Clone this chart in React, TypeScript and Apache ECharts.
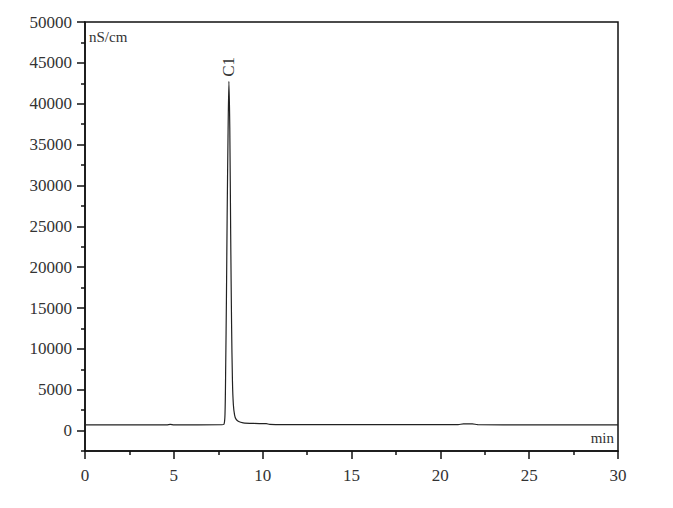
import { useRef, useEffect } from 'react';
import * as echarts from 'echarts';

// retention time (min) and conductivity (nS/cm)
const times = [
  0, 2, 4.6, 4.8, 5.0, 7.7, 7.82, 7.88, 7.92, 7.96, 8.0, 8.05, 8.1, 8.15, 8.2,
  8.25, 8.3, 8.35, 8.42, 8.5, 8.65, 8.9, 9.5, 10.2, 10.4, 12, 21.0, 21.3, 21.8,
  22.1, 25, 30,
];
const signal = [
  700, 690, 700, 760, 700, 710, 760, 2000, 8000, 16000, 26000, 36000, 42750,
  37000, 24000, 13000, 6000, 3200, 1900, 1400, 1100, 950, 870, 840, 760, 720,
  720, 820, 820, 720, 700, 690,
];

const peakName = 'C1';
const peakTime = 8.1;
const peakValue = 42750;

const yMajorTicks = [0, 5000, 10000, 15000, 20000, 25000, 30000, 35000, 40000, 45000, 50000];
const yMinorTicks = [-2500, 2500, 7500, 12500, 17500, 22500, 27500, 32500, 37500, 42500, 47500];

const serif = '"Liberation Serif", "DejaVu Serif", serif';

export default function App() {
  const chartRef = useRef<HTMLDivElement>(null);

  useEffect(() => {
    if (!chartRef.current) return;
    document.body.style.margin = '0';

    const chart = echarts.init(chartRef.current, null, { renderer: 'svg' });

    const points = times.map((t, i) => [t, signal[i]]);

    const option = {
      animation: false,
      backgroundColor: '#fff',
      grid: {
        left: 85,
        right: 55,
        top: 22,
        bottom: 57,
        show: true,
        borderColor: '#111',
        borderWidth: 1.5,
        backgroundColor: 'transparent',
      },
      xAxis: {
        type: 'value',
        min: 0,
        max: 30,
        interval: 5,
        axisLine: { show: true, onZero: false, lineStyle: { color: '#111', width: 1.5 } },
        axisTick: { show: true, length: 8, lineStyle: { color: '#111', width: 1.5 } },
        minorTick: { show: true, splitNumber: 2, length: 4, lineStyle: { color: '#111', width: 1.5 } },
        axisLabel: { color: '#333', fontFamily: serif, fontSize: 17, margin: 16 },
        splitLine: { show: false },
      },
      yAxis: [
        {
          type: 'value',
          min: -2500,
          max: 50000,
          axisLine: { show: true, onZero: false, lineStyle: { color: '#111', width: 1.5 } },
          axisTick: {
            show: true,
            length: 8,
            customValues: yMajorTicks,
            lineStyle: { color: '#111', width: 1.5 },
          },
          axisLabel: {
            color: '#333',
            fontFamily: serif,
            fontSize: 17,
            margin: 13,
            customValues: yMajorTicks,
            formatter: (v: number) => String(v),
          },
          splitLine: { show: false },
        },
        {
          type: 'value',
          min: -2500,
          max: 50000,
          position: 'left',
          axisLine: { show: false },
          axisTick: {
            show: true,
            length: 4,
            customValues: yMinorTicks,
            lineStyle: { color: '#111', width: 1.5 },
          },
          axisLabel: { show: false },
          splitLine: { show: false },
        },
      ],
      graphic: [
        {
          type: 'text',
          left: 89,
          top: 29,
          style: { text: 'nS/cm', font: '15px ' + serif, fill: '#333' },
        },
        {
          type: 'text',
          right: 59,
          top: 430,
          style: { text: 'min', font: '15px ' + serif, fill: '#333' },
        },
      ],
      series: [
        {
          type: 'line',
          data: points,
          showSymbol: false,
          smooth: 0.3,
          lineStyle: { color: '#222', width: 1.2 },
          markPoint: {
            symbol: 'circle',
            symbolSize: 1,
            itemStyle: { color: 'transparent' },
            label: {
              show: true,
              formatter: peakName,
              position: 'top',
              rotate: 90,
              align: 'left',
              verticalAlign: 'middle',
              distance: 4,
              color: '#333',
              fontFamily: serif,
              fontSize: 17,
            },
            data: [{ coord: [peakTime, peakValue] }],
          },
        },
      ],
    };

    chart.setOption(option);

    return () => {
      chart.dispose();
    };
  }, []);

  return <div ref={chartRef} style={{ width: 673, height: 508 }} />;
}
